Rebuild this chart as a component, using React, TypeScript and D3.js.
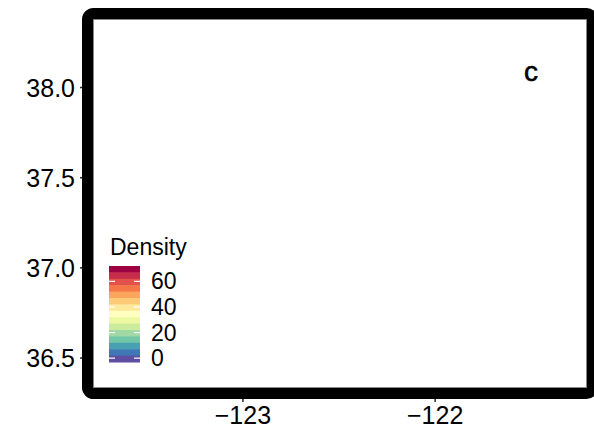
import React from "react";
import * as d3 from "d3";

// axis ticks (lon / lat)
const lonTicks = [-123, -122];
const latTicks = [36.5, 37.0, 37.5, 38.0];
const lonDomain = [-123.78, -121.21];
const latDomain = [36.334, 38.38];

// legend
const densityTicks = [0, 20, 40, 60];
const densityDomain = [-3, 72];
const densityBins = 15;
const spectral = ["#9E0142", "#D53E4F", "#F46D43", "#FDAE61", "#FEE08B", "#FFFFBF",
    "#E6F598", "#ABDDA4", "#66C2A5", "#3288BD", "#5E4FA2"];
const panelTag = "c";
const legendTitle = "Density";

const W = 594;
const H = 429;
const FONT = "'Liberation Sans', Arial, Helvetica, sans-serif";

export default function App() {
    const panel = { left: 93, right: 587, top: 19, bottom: 388 };

    const x = d3.scaleLinear().domain(lonDomain).range([panel.left, panel.right]);
    const y = d3.scaleLinear().domain(latDomain).range([panel.bottom, panel.top]);

    // colour bar
    const bar = { x: 109, w: 31, top: 266, bottom: 362 };
    const ly = d3.scaleLinear().domain(densityDomain).range([bar.bottom, bar.top]);
    const colour = d3.scaleLinear<string>()
        .domain(d3.range(spectral.length).map(i => i / (spectral.length - 1)))
        .range(spectral)
        .interpolate(d3.interpolateRgb);
    const binH = (bar.bottom - bar.top) / densityBins;
    const bins = d3.range(densityBins);

    const fmtLat = d3.format(".1f");
    const fmtLon = (v: number) => `\u2212${Math.abs(v)}`;

    return (
        <svg width={W} height={H} style={{ position: "absolute", left: 0, top: 0, background: "white" }}
            fontFamily={FONT}>
            <rect x={0} y={0} width={W} height={H} fill="white" />

            {/* y axis */}
            {latTicks.map(t => (
                <g key={t}>
                    <line x1={80} x2={88} y1={y(t)} y2={y(t)} stroke="#333" strokeWidth={1.6} />
                    <text x={75} y={y(t) + 9} textAnchor="end" fontSize={25} fill="black">{fmtLat(t)}</text>
                </g>
            ))}

            {/* x axis */}
            {lonTicks.map(t => (
                <g key={t}>
                    <line x1={x(t)} x2={x(t)} y1={395} y2={402} stroke="#333" strokeWidth={1.6} />
                    <text x={x(t)} y={424} textAnchor="middle" fontSize={25} fill="black">{fmtLon(t)}</text>
                </g>
            ))}

            {/* panel border */}
            <rect x={panel.left + 0.5} y={panel.top + 0.5} width={panel.right - panel.left - 1}
                height={panel.bottom - panel.top - 1} fill="none" stroke="#888" strokeWidth={1} />
            {/* thick frame */}
            <rect x={87.5} y={13.5} width={505} height={380} rx={6} ry={6}
                fill="none" stroke="black" strokeWidth={11} />

            {/* panel tag */}
            <text x={531} y={81} textAnchor="middle" fontSize={28} fill="black"
                stroke="black" strokeWidth={0.6}>{panelTag}</text>

            {/* legend */}
            <text x={110} y={255} fontSize={23} fill="black">{legendTitle}</text>
            {bins.map(i => (
                <rect key={i} x={bar.x} y={bar.top + i * binH} width={bar.w} height={binH + 0.5}
                    fill={colour(i / (densityBins - 1))} />
            ))}
            {densityTicks.map(t => (
                <g key={t}>
                    <line x1={bar.x} x2={bar.x + 6} y1={ly(t)} y2={ly(t)} stroke="white" strokeWidth={1.2} />
                    <line x1={bar.x + bar.w - 6} x2={bar.x + bar.w} y1={ly(t)} y2={ly(t)} stroke="white" strokeWidth={1.2} />
                    <text x={151} y={ly(t) + 8} fontSize={23} fill="black">{t}</text>
                </g>
            ))}
        </svg>
    );
}
